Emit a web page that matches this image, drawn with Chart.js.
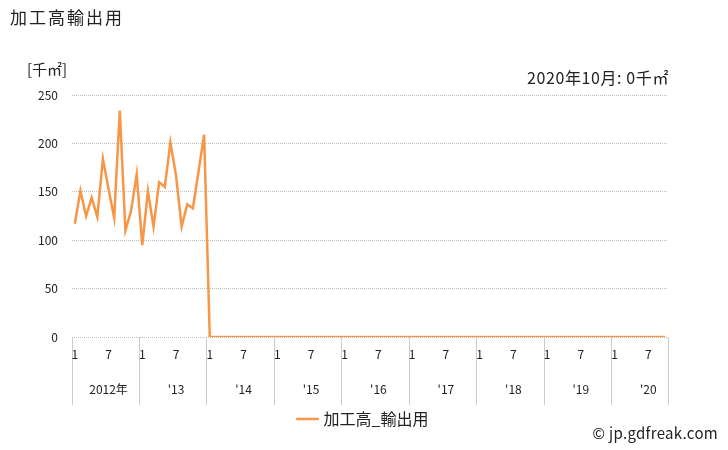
<!DOCTYPE html>
<html>
<head>
<meta charset="utf-8">
<script src="https://cdn.jsdelivr.net/npm/chart.js@4.4.0/dist/chart.umd.min.js"></script>
<style>
  body { margin: 0; background: #fff; font-family: "Noto Sans CJK JP", sans-serif; }
  #wrap { position: relative; width: 728px; height: 450px; }
  #chartBox { position: absolute; left: 0; top: 0; width: 728px; height: 450px; }
  .txt { position: absolute; color: #222; white-space: nowrap; }
  #title { left: 10px; top: 4px; font-size: 17px; letter-spacing: 2px; }
  #unit { left: 27px; top: 58px; font-size: 15px; }
  #note { right: 59px; top: 65px; font-size: 16px; letter-spacing: 0.6px; }
  #copy { right: 10px; top: 422px; font-size: 15px; letter-spacing: 0.3px; }
</style>
</head>
<body>
<div id="wrap">
  <div id="chartBox"><canvas id="myChart"></canvas></div>
  <div class="txt" id="title">加工高輸出用</div>
  <div class="txt" id="unit">[千㎡]</div>
  <div class="txt" id="note">2020年10月: 0千㎡</div>
  <div class="txt" id="copy">© jp.gdfreak.com</div>
</div>
<script>
// 年ラベル
const years = ['2012年', "'13", "'14", "'15", "'16", "'17", "'18", "'19", "'20"];
// 2012年1月〜2020年10月 (千㎡)
const values2012 = [117, 151, 125, 144, 124, 184, 153, 123, 234, 110, 130, 168];
const values2013 = [95, 151, 114, 160, 155, 201, 167, 114, 137, 133, 171, 209];
const values2014 = [0, 0, 0, 0, 0, 0, 0, 0, 0, 0, 0, 0];
const values2015 = [0, 0, 0, 0, 0, 0, 0, 0, 0, 0, 0, 0];
const values2016 = [0, 0, 0, 0, 0, 0, 0, 0, 0, 0, 0, 0];
const values2017 = [0, 0, 0, 0, 0, 0, 0, 0, 0, 0, 0, 0];
const values2018 = [0, 0, 0, 0, 0, 0, 0, 0, 0, 0, 0, 0];
const values2019 = [0, 0, 0, 0, 0, 0, 0, 0, 0, 0, 0, 0];
const values2020 = [0, 0, 0, 0, 0, 0, 0, 0, 0, 0];
const yTicks = [0, 50, 100, 150, 200, 250];

const values = [].concat(values2012, values2013, values2014, values2015,
    values2016, values2017, values2018, values2019, values2020);

// ラベル: 1月と7月だけ表示、7月の下に年
const labels = values.map((v, i) => {
    const m = i % 12 + 1;
    const y = Math.floor(i / 12);
    if (m === 1) return '1';
    if (m === 7) return ['7', '', years[y]];
    return '';
});

// 凡例をページ全体の中央へ
const centerLegend = {
    id: 'centerLegend',
    afterLayout(chart) {
        if (chart.legend) {
            chart.legend.left = 0;
            chart.legend.right = chart.width;
        }
    }
};

const ctx = document.getElementById('myChart').getContext('2d');
new Chart(ctx, {
    type: 'line',
    data: {
        labels: labels,
        datasets: [{
            label: '加工高_輸出用',
            data: values,
            borderColor: '#F79646',
            backgroundColor: '#F79646',
            borderWidth: 2.5,
            pointRadius: 0,
            tension: 0,
            fill: false
        }]
    },
    plugins: [centerLegend],
    options: {
        responsive: true,
        maintainAspectRatio: false,
        animation: false,
        layout: { padding: { left: 0, right: 60, top: 95, bottom: 13 } },
        plugins: {
            legend: {
                position: 'bottom',
                labels: {
                    usePointStyle: true,
                    pointStyle: 'line',
                    boxWidth: 30,
                    color: '#222',
                    padding: 4,
                    font: { family: '"Noto Sans CJK JP"', size: 16 }
                }
            },
            tooltip: { enabled: false }
        },
        scales: {
            x: {
                type: 'category',
                offset: true,
                border: { display: false },
                grid: {
                    offset: true,
                    drawOnChartArea: false,
                    tickLength: 68,
                    color: c => (c.index === undefined || c.index % 12 === 0) ? '#cccccc' : 'rgba(0,0,0,0)'
                },
                ticks: {
                    autoSkip: false,
                    maxRotation: 0,
                    padding: -59,
                    color: '#222',
                    font: { family: '"Noto Sans CJK JP"', size: 12, lineHeight: 1.45 }
                },
                afterFit: s => { s.height = 70; }
            },
            y: {
                min: 0,
                max: 250,
                border: { display: false, dash: [1, 1] },
                afterBuildTicks: s => { s.ticks = yTicks.map(v => ({ value: v })); },
                grid: {
                    color: '#bdbdbd',
                    drawTicks: false
                },
                ticks: {
                    padding: 14,
                    color: '#222',
                    font: { family: '"Noto Sans CJK JP"', size: 12 }
                },
                afterFit: s => { s.width = 72; }
            }
        }
    }
});
</script>
</body>
</html>
